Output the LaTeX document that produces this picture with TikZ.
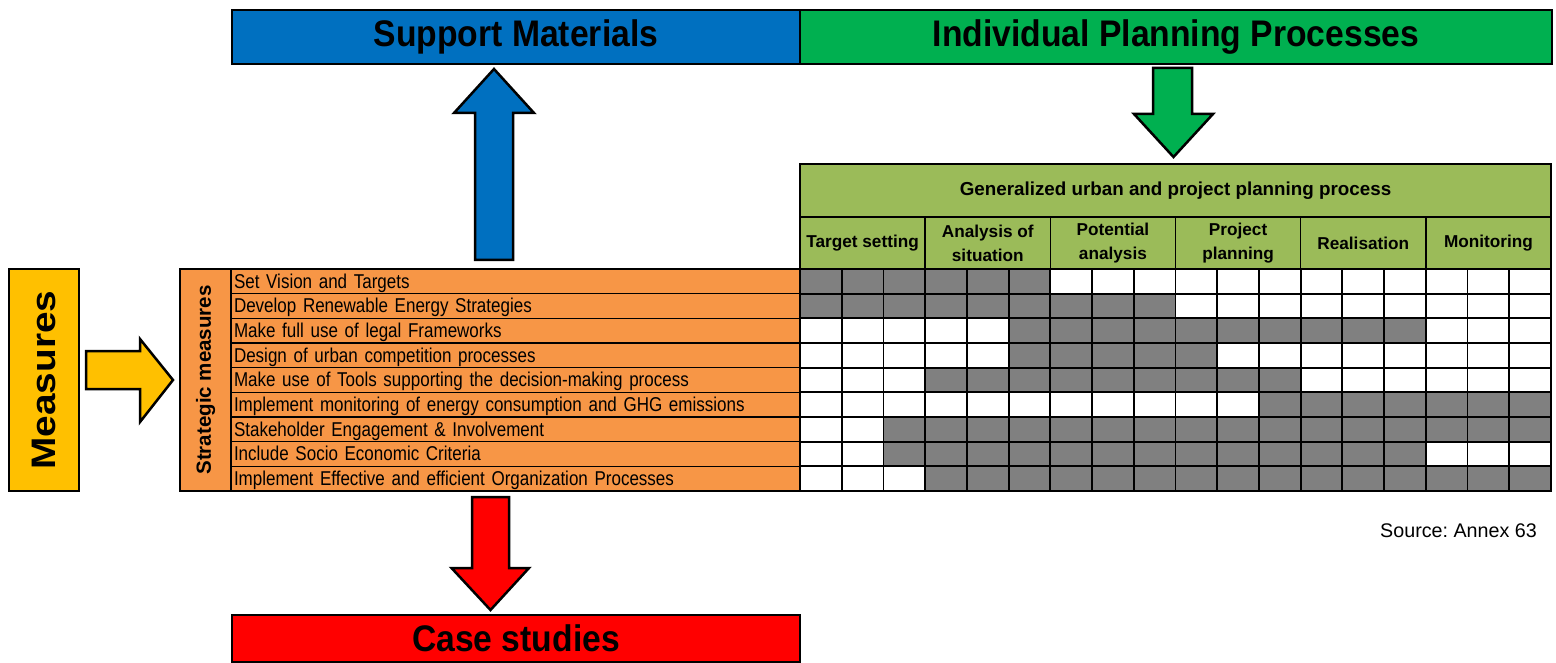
\documentclass[tikz,border=0pt]{standalone}
\usepackage{fontspec}
\setmainfont{Liberation Sans}
\newfontfamily\rowfont{Liberation Sans}[FakeStretch=0.85]
\newfontfamily\titlefont{Liberation Sans}[FakeStretch=0.91]
\newfontfamily\vertfont{Liberation Sans}[FakeStretch=1.14]
\definecolor{suppblue}{HTML}{0070C0}
\definecolor{indivgreen}{HTML}{00B050}
\definecolor{headgreen}{HTML}{9BBB59}
\definecolor{measyellow}{HTML}{FFC000}
\definecolor{stratorange}{HTML}{F79646}
\definecolor{cellgray}{HTML}{808080}

\begin{document}
\frenchspacing
\begin{tikzpicture}[
	x=1pt, y=-1pt,
	titlebar/.style={
		rectangle,
		draw=black,
		line width=1.5,
		inner sep=0,
		font=\titlefont\bfseries\fontsize{37}{40}\selectfont,
	},
	headbox/.style={
		rectangle,
		draw=black,
		line width=1.5,
		fill=headgreen,
		inner sep=0,
		align=center,
		font=\bfseries\fontsize{17.2}{24}\selectfont,
	},
	rowbox/.style={
		rectangle,
		draw=black,
		line width=1.2,
		fill=stratorange,
		text width=563,
		text height=17.5,
		text depth=4,
		inner xsep=3,
		inner ysep=0,
		minimum height=24.67,
		align=left,
		font=\rowfont\fontsize{20}{22}\selectfont,
	},
	blockarrow/.style={
		draw=black,
		line width=2.5,
		line join=miter,
	},
	gridline/.style={
		draw=black,
		line width=1.8,
	},
]

\useasboundingbox (0,0) rectangle (1556,663);

% title bars
\node[titlebar, fill=suppblue, minimum width=568, minimum height=54] (supp) at (516,37) {Support Materials};
\node[titlebar, fill=indivgreen, minimum width=752, minimum height=54] (indiv) at (1176,37) {Individual Planning Processes};
\node[titlebar, fill=red, minimum width=568, minimum height=47] (case) at (516,638.5) {Case studies};

% measures
\node[rectangle, draw=black, line width=1.5, fill=measyellow, rotate=90, minimum width=222, minimum height=70, inner sep=0,
	font=\vertfont\bfseries\fontsize{34}{36}\selectfont] (meas) at (44,380) {Measures};
\node[rectangle, draw=black, line width=1.5, fill=stratorange, rotate=90, minimum width=222, minimum height=51, inner sep=0,
	font=\bfseries\fontsize{20.5}{22}\selectfont] (strat) at (205.5,380) {Strategic measures};

\foreach \t [count=\i] in {
	Set Vision and Targets,
	Develop Renewable Energy Strategies,
	Make full use of legal Frameworks,
	Design of urban competition processes,
	Make use of Tools supporting the decision-making process,
	Implement monitoring of energy consumption and GHG emissions,
	Stakeholder Engagement \& Involvement,
	Include Socio Economic Criteria,
	Implement Effective and efficient Organization Processes}
	\node[rowbox] (r\i) at (515.5,{269+(\i-0.5)*24.67}) {\t};

% planning process header
\node[headbox, minimum width=751, minimum height=53, font=\bfseries\fontsize{18.8}{22}\selectfont] (gen) at (1175.5,190.5) {Generalized urban and project planning process};
\foreach \t [count=\i] in {Target setting, Analysis of\\ situation, Potential\\ analysis, Project\\ planning, Realisation, Monitoring}
	\node[headbox, minimum width=125.17, minimum height=52] (ph\i) at ({800+(\i-0.5)*125.17},243) {\t};

% grid of cells
\fill[white] (800,269) rectangle (1551,491);
\foreach \r/\a/\b in {1/1/6, 2/1/9, 3/6/15, 4/6/10, 5/4/12, 6/12/18, 7/3/18, 8/3/15, 9/4/18}
	\fill[cellgray] ({800+(\a-1)*41.72},{269+(\r-1)*24.67}) rectangle ({800+\b*41.72},{269+\r*24.67});
\foreach \c in {0,...,18}
	\draw[gridline] ({800+\c*41.72},269) -- ({800+\c*41.72},491);
\foreach \r in {0,...,9}
	\draw[gridline] (799,{269+\r*24.67}) -- (1552,{269+\r*24.67});

% block arrows
\draw[blockarrow, fill=measyellow] (86,351) -- (140,351) -- (140,339) -- (173,380) -- (140,422) -- (140,389) -- (86,389) -- cycle;
\draw[blockarrow, fill=suppblue] (475,260) -- (475,113) -- (454,113) -- (494,69) -- (534,113) -- (513,113) -- (513,260) -- cycle;
\draw[blockarrow, fill=red] (472,497) -- (509,497) -- (509,568) -- (529,568) -- (490.5,610) -- (451.5,568) -- (472,568) -- cycle;
\draw[blockarrow, fill=indivgreen] (1153,68) -- (1192,68) -- (1192,114) -- (1213,114) -- (1173.5,157) -- (1134,114) -- (1153,114) -- cycle;

\node[anchor=base east, inner sep=0, font=\fontsize{19.7}{22}\selectfont] (src) at (1537,537) {Source: Annex 63};

\end{tikzpicture}
\end{document}
